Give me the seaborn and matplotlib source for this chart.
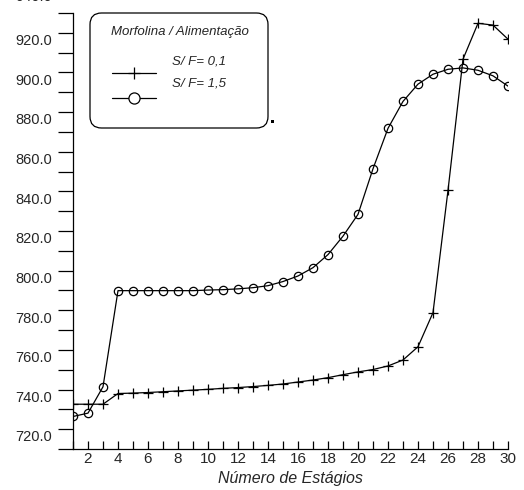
import numpy as np
import pandas as pd
import seaborn as sns
import matplotlib
matplotlib.use("Agg")
import matplotlib.pyplot as plt
import matplotlib.transforms as mtransforms
from matplotlib.patches import FancyBboxPatch, Rectangle
from matplotlib.lines import Line2D

# Stage temperature profiles for two solvent/feed ratios
stages = list(range(1, 31))
sf_01 = [732.6, 732.6, 732.6, 738.0, 738.2, 738.5, 738.9, 739.3, 739.7, 740.1,
         740.6, 741.0, 741.5, 742.1, 742.8, 743.8, 744.8, 746.0, 747.5, 748.9,
         750.1, 751.9, 754.9, 761.6, 778.8, 840.5, 906.7, 924.8, 923.9, 916.8]
sf_15 = [726.4, 728.1, 741.4, 789.9, 789.9, 789.9, 789.9, 789.9, 789.9, 790.2,
         790.4, 790.8, 791.4, 792.4, 794.5, 797.3, 801.5, 808.1, 817.4, 828.4,
         851.4, 871.8, 885.4, 894.1, 899.1, 901.6, 902.3, 901.1, 898.3, 893.1]
series_labels = ["S/ F= 0,1", "S/ F= 1,5"]
legend_title = "Morfolina / Alimentação"
x_label = "Número de Estágios"
y_major = [720, 740, 760, 780, 800, 820, 840, 860, 880, 900, 920]
y_minor = [710, 730, 750, 770, 790, 810, 830, 850, 870, 890, 910, 930]
y_extra = 940
x_major = list(range(2, 31, 2))
x_minor = list(range(1, 31, 2))

sns.set_style("white")
plt.rcParams["font.family"] = ["Liberation Sans", "DejaVu Sans"]

W, H = 524, 490
fig = plt.figure(figsize=(W / 100, H / 100), dpi=100)
ax = fig.add_axes([73 / W, 1 - 449 / H, (508 - 73) / W, (449 - 13) / H])

df = pd.DataFrame({"stage": stages, "sf01": sf_01, "sf15": sf_15})
sns.lineplot(data=df, x="stage", y="sf01", ax=ax, color="black", lw=0.9,
             marker="+", markersize=7, markeredgecolor="black",
             markeredgewidth=0.9, legend=False)
sns.lineplot(data=df, x="stage", y="sf15", ax=ax, color="black", lw=0.9,
             marker="o", markersize=6, markerfacecolor="none",
             markeredgecolor="black", markeredgewidth=0.9, legend=False)

ax.set_xlim(1, 30)
ax.set_ylim(710, 930)
for s in ["top", "right"]:
    ax.spines[s].set_visible(False)
for s in ["left", "bottom"]:
    ax.spines[s].set_color("black")
    ax.spines[s].set_linewidth(0.9)

ax.set_yticks(y_major)
ax.set_yticks(y_minor, minor=True)
ax.set_yticklabels([f"{v:.1f}" for v in y_major])
ax.set_xticks(x_major)
ax.set_xticks(x_minor, minor=True)
ax.set_xticklabels([str(v) for v in x_major])

ax.tick_params(axis="y", which="both", direction="out", length=11, width=0.9,
               color="black", pad=4.3, labelsize=10.5, left=True)
ax.tick_params(axis="x", which="both", direction="in", length=6, width=0.9,
               color="black", pad=2.5, labelsize=11, bottom=True)
for lab in ax.get_xticklabels():
    lab.set_family(["Liberation Sans Narrow", "Liberation Sans", "DejaVu Sans"])

ax.set_xlabel(x_label, fontsize=11.5, style="italic", labelpad=3)
ax.set_ylabel("")

# y tick labels sit a little below their ticks
off = mtransforms.ScaledTranslation(0, -6.8 / 100, fig.dpi_scale_trans)
for lab in ax.get_yticklabels():
    lab.set_transform(lab.get_transform() + off)
# the top label only peeks in at the upper edge
off_top = mtransforms.ScaledTranslation(0, -2.5 / 100, fig.dpi_scale_trans)
trans, va, ha = ax.get_yaxis_text1_transform(11 + 4.3)
ax.text(0, y_extra, f"{y_extra:.1f}", transform=trans + off_top, va=va, ha=ha,
        fontsize=10.5, clip_on=False)

# legend box drawn in figure pixels
def fx(px):
    return px / W

def fy(py):
    return 1 - py / H

box = FancyBboxPatch((fx(90), fy(128)), fx(268) - fx(90), fy(13) - fy(128),
                     boxstyle="round,pad=0,rounding_size=0.022",
                     transform=fig.transFigure, fc="white", ec="black", lw=0.9,
                     mutation_aspect=W / H)
fig.patches.append(box)
fig.text(fx(180), fy(32), legend_title, ha="center", va="center",
         fontsize=9.5, style="italic")
fig.lines.append(Line2D([fx(112), fx(156)], [fy(72.7), fy(72.7)], color="black",
                        lw=0.9, transform=fig.transFigure))
fig.lines.append(Line2D([fx(134)], [fy(72.7)], color="black", marker="+",
                        markersize=9, markeredgewidth=0.9, transform=fig.transFigure))
fig.lines.append(Line2D([fx(112), fx(156)], [fy(97.7), fy(97.7)], color="black",
                        lw=0.9, transform=fig.transFigure))
fig.lines.append(Line2D([fx(134)], [fy(97.7)], color="black", marker="o",
                        markersize=8, markerfacecolor="white",
                        markeredgewidth=0.9, transform=fig.transFigure))
fig.text(fx(172), fy(61), series_labels[0], ha="left", va="center",
         fontsize=9.5, style="italic")
fig.text(fx(172), fy(83), series_labels[1], ha="left", va="center",
         fontsize=9.5, style="italic")
fig.patches.append(Rectangle((fx(271), fy(123.5)), 3 / W, 3 / H,
                             transform=fig.transFigure, fc="black", ec="none"))

fig.savefig("out.png", dpi=100)
